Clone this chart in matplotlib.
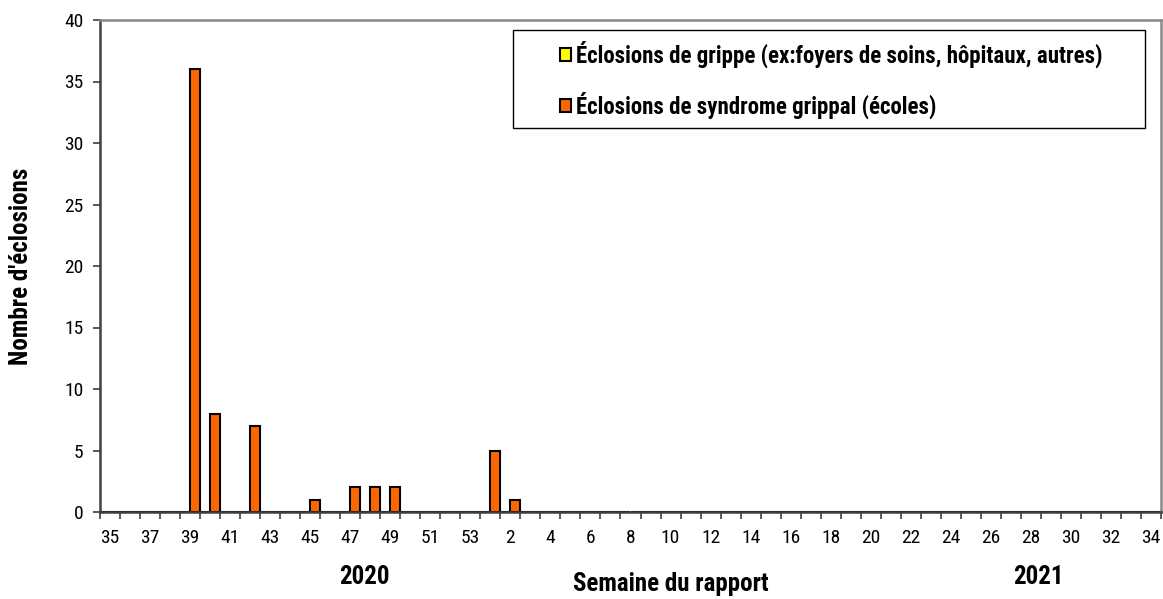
import matplotlib
matplotlib.use("Agg")
import matplotlib.pyplot as plt
from matplotlib.patches import Rectangle
import numpy as np

plt.rcParams["font.family"] = ["Roboto Condensed", "Liberation Sans", "DejaVu Sans"]

weeks = [str(w) for w in range(35, 54)] + [str(w) for w in range(1, 35)]
grippe = [0] * len(weeks)
syndrome_counts = {"39": 36, "40": 8, "42": 7, "45": 1, "47": 2, "48": 2, "49": 2, "1": 5, "2": 1}
syndrome = [syndrome_counts.get(w, 0) for w in weeks]
yticks = [0, 5, 10, 15, 20, 25, 30, 35, 40]

W, H = 1163, 599
fig = plt.figure(figsize=(W / 100, H / 100), dpi=100)
ax = fig.add_axes([100 / W, 87 / H, 1061 / W, 492 / H])

x = np.arange(len(weeks))
ax.bar(x - 0.25, grippe, width=0.5, color="#ffff00", edgecolor="black", linewidth=1.5,
       label="Éclosions de grippe (ex:foyers de soins, hôpitaux, autres)")
ax.bar(x + 0.25, syndrome, width=0.5, color="#ff6600", edgecolor="black", linewidth=1.5,
       label="Éclosions de syndrome grippal (écoles)")

ax.set_xlim(-0.5, len(weeks) - 0.5)
ax.set_ylim(0, 40)
ax.set_yticks(yticks)
ax.set_yticklabels([str(v) for v in yticks], fontsize=14)

# ticks at category boundaries, labels every other category
ax.set_xticks(np.arange(len(weeks) + 1) - 0.5)
ax.set_xticklabels([])
ax.set_xticks(x[::2], minor=True)
ax.set_xticklabels(weeks[::2], minor=True, fontsize=14)
ax.tick_params(axis="x", which="minor", length=0, pad=12)
ax.tick_params(axis="x", which="major", length=5, width=1.2, color="#404040", direction="out")
ax.tick_params(axis="y", length=5, width=1.2, color="#404040", direction="out", pad=7)

for side in ["left", "bottom"]:
    ax.spines[side].set_color("#404040")
    ax.spines[side].set_linewidth(1.8)
for side in ["top", "right"]:
    ax.spines[side].set_color("#888888")
    ax.spines[side].set_linewidth(1.8)

ax.set_ylabel("Nombre d'éclosions", fontsize=18, fontweight="bold")
ax.yaxis.set_label_coords(-0.063, 0.5)
fig.text(671 / W, 1 - 584 / H, "Semaine du rapport", fontsize=18, fontweight="bold",
         ha="center", va="center")
fig.text(364 / W, 1 - 577 / H, "2020", fontsize=18, fontweight="bold", ha="center", va="center")
fig.text(1038 / W, 1 - 577 / H, "2021", fontsize=18, fontweight="bold", ha="center", va="center")

# legend frame drawn separately so its size matches the reference box
ax.add_patch(Rectangle((513 / W, 1 - 128 / H), 632 / W, 98 / H, transform=fig.transFigure,
                       facecolor="white", edgecolor="black", linewidth=1.0, zorder=4,
                       clip_on=False))
leg = ax.legend(loc="center left", bbox_to_anchor=(560 / W, 1 - 80 / H),
                bbox_transform=fig.transFigure, prop={"weight": "bold", "size": 16.5},
                frameon=False, handlelength=0.5, handleheight=0.5,
                handletextpad=0.2, labelspacing=1.05, borderpad=0, borderaxespad=0)
leg.set_zorder(6)

fig.savefig("out.png", dpi=100)
